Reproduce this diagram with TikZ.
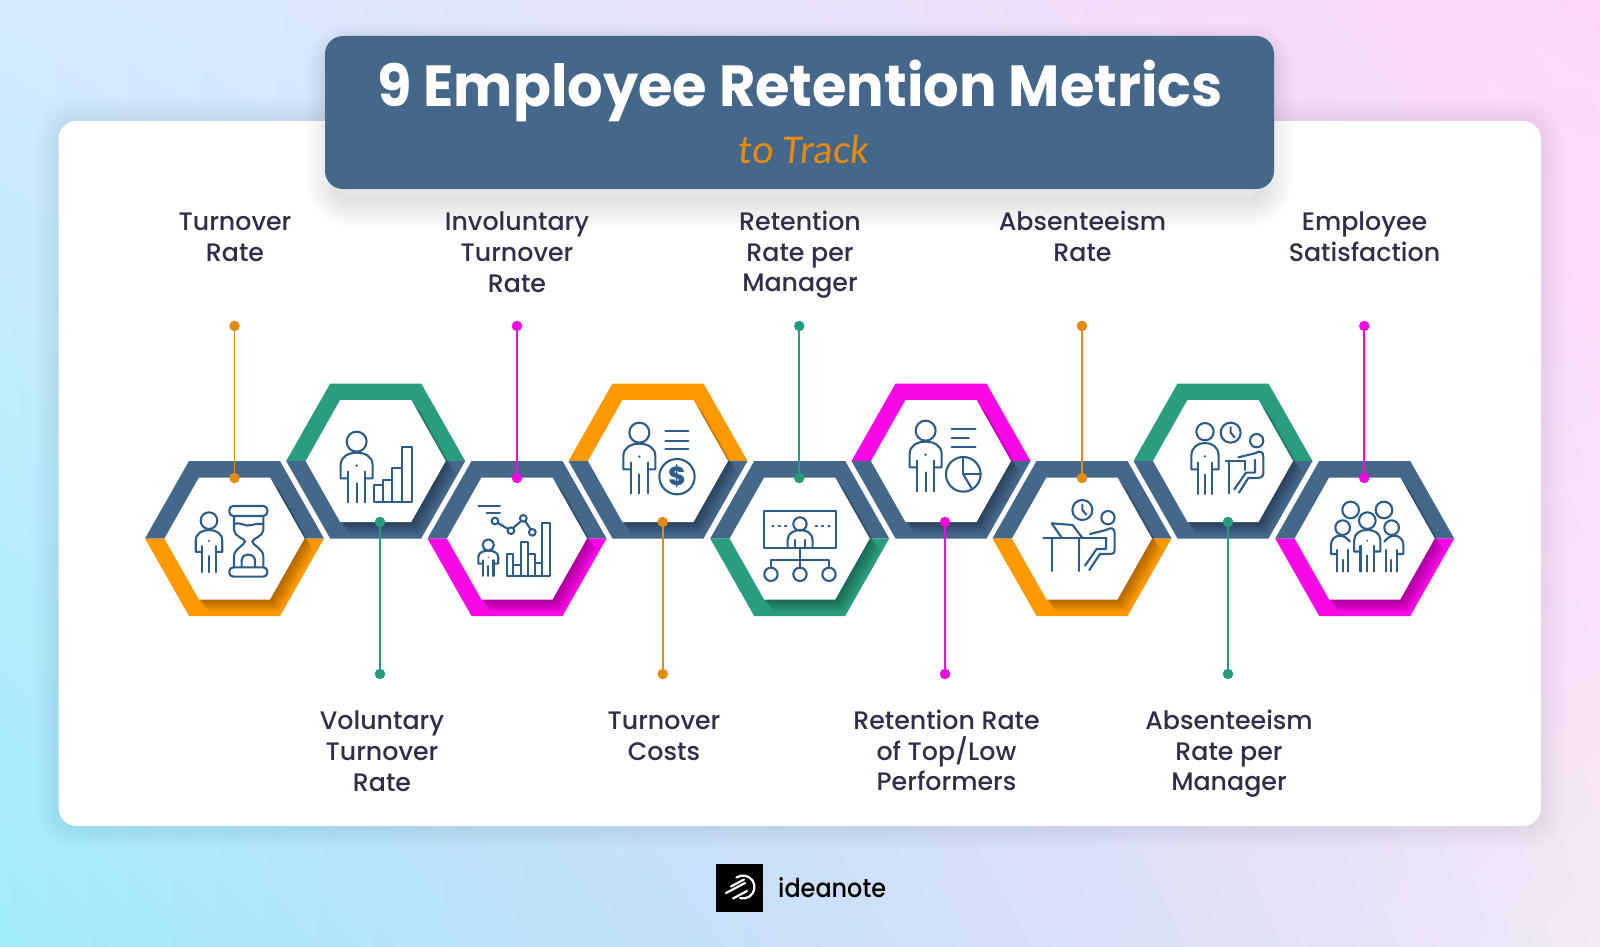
\documentclass[tikz,border=0pt]{standalone}
\usepackage{fontspec}
\setmainfont{Poppins}
\newfontfamily\labelfont{Poppins Medium}
\newfontfamily\brandfont[FakeStretch=0.92]{Poppins Medium}
\newfontfamily\titlefont[FakeStretch=0.963]{Poppins Bold}
\newfontfamily\hintfont[FakeSlant=0.1]{Carlito}
\usetikzlibrary{calc}
\definecolor{boxblue}{HTML}{44678A}
\definecolor{iconblue}{HTML}{2D5C88}
\definecolor{inktext}{HTML}{2E3047}
\definecolor{hexorange}{HTML}{FF9900}
\definecolor{hexgreen}{HTML}{2A9D7F}
\definecolor{hexpink}{HTML}{F708E4}
\definecolor{lineorange}{HTML}{E58A10}
\definecolor{linegreen}{HTML}{279A7B}
\definecolor{linepink}{HTML}{F20ADE}
\pgfdeclarefunctionalshading{pagewash}{\pgfpoint{0bp}{0bp}}{\pgfpoint{100bp}{100bp}}{}{
25 sub 50 div exch 25 sub 50 div exch
2 copy 2 copy mul -0.150 mul 3 1 roll 0.197 mul exch 0.326 mul add add 0.627 add 3 1 roll
2 copy 2 copy mul -0.060 mul 3 1 roll -0.007 mul exch -0.019 mul add add 0.929 add
3 copy pop 1 exch sub exch dup 1 exch sub mul mul 0.16 mul sub 3 1 roll
2 copy 2 copy mul 0.023 mul 3 1 roll -0.004 mul exch -0.031 mul add add 0.992 add 3 1 roll
pop pop}
\tikzset{
 metric/.style={font=\labelfont\fontsize{25.3}{30.6}\selectfont, text=inktext, align=center, inner sep=0pt},
 pin/.style={circle, fill=#1, inner sep=0pt, minimum size=10.5pt},
 icon/.style={draw=iconblue, line width=2.1pt, line cap=round, line join=round},
 frameA/.style={shift={(130pt,-370pt)}, x=.3333pt, y=-.3333pt},
 frameB/.style={shift={(560pt,-370pt)}, x=.3333pt, y=-.3333pt},
 frameC/.style={shift={(1000pt,-370pt)}, x=.3333pt, y=-.3333pt},
}
% ring with two colours and a shadow from the white middle
\newcommand{\hexcell}[4]{
\begin{scope}[shift={(#1,#2)}]
\fill[#3] (-89.5,0) -- (-45.5,-77.5) -- (45.5,-77.5) -- (89.5,0) -- cycle;
\fill[#4] (-89.5,0) -- (-45.5,77.5) -- (45.5,77.5) -- (89.5,0) -- cycle;
\begin{scope}
\clip (-89.5,0) -- (-45.5,-77.5) -- (45.5,-77.5) -- (89.5,0) -- (45.5,77.5) -- (-45.5,77.5) -- cycle;
\foreach \s in {1,...,12}
\fill[black, opacity=.028, shift={(.8*\s,\s)}] (-70,0) -- (-35.5,-61) -- (35.5,-61) -- (70,0) -- (35.5,61) -- (-35.5,61) -- cycle;
\end{scope}
\fill[white] (-70,0) -- (-35.5,-61) -- (35.5,-61) -- (70,0) -- (35.5,61) -- (-35.5,61) -- cycle;
\end{scope}}
% standing figure, origin at the middle of the head
\newcommand{\personicon}[4]{
\draw[icon] (#1,#2) circle (#4);
\begin{scope}[shift={(#1,#2)}, #3]
\draw[icon] (-25,110) -- (-48,110) -- (-48,70) .. controls (-48,45) and (-25,33) .. (0,33) .. controls (25,33) and (48,45) .. (48,70) -- (48,110) -- (25,110);
\draw[icon] (-25,90) -- (-25,182);
\draw[icon] (0,125) -- (0,182);
\draw[icon] (25,90) -- (25,182);
\fill[iconblue] (0,72) circle (4);
\end{scope}}
\newcommand{\clockicon}[2]{
\begin{scope}[shift={(#1,#2)}]
\draw[icon] (0,0) circle (30);
\draw[icon] (0,-16) -- (0,0) -- (12,14);
\end{scope}}
\begin{document}
\begin{tikzpicture}[x=1pt, y=-1pt]
\useasboundingbox (0,0) rectangle (1600,947);
\shade[shading=pagewash] (0,947) rectangle (1600,0);

% card
\foreach \w in {4,10,...,46}
\draw[black, opacity=.007, line width=\w pt, rounded corners=18pt] (58.5,121) rectangle (1541,826);
\fill[white, rounded corners=18pt] (58.5,121) rectangle (1541,826);

% title box
\foreach \w in {4,10,...,58}
\draw[black, opacity=.01, line width=\w pt, rounded corners=18pt] (335,52) rectangle (1264,199);
\fill[boxblue, rounded corners=18pt] (325,36) rectangle (1274,189);
\node[font=\titlefont\fontsize{58}{58}\selectfont, text=white, anchor=base, inner sep=0pt] (maintitle) at (800,107) {9 Employee Retention Metrics};
\node[font=\hintfont\fontsize{41}{41}\selectfont, text=lineorange, anchor=base, inner sep=0pt] (subtitle) at (803,163) {to Track};

% hexagons
\hexcell{234.5}{538.5}{boxblue}{hexorange}
\hexcell{375.7}{461}{hexgreen}{boxblue}
\hexcell{517}{538.5}{boxblue}{hexpink}
\hexcell{658}{461}{hexorange}{boxblue}
\hexcell{799.7}{538.5}{boxblue}{hexgreen}
\hexcell{941}{461}{hexpink}{boxblue}
\hexcell{1082}{538.5}{boxblue}{hexorange}
\hexcell{1223}{461}{hexgreen}{boxblue}
\hexcell{1364.7}{538.5}{boxblue}{hexpink}

% icons 1 to 3
\begin{scope}[frameA]
\personicon{237}{452}{xscale=.83,yscale=.85}{25}
\draw[icon, rounded corners=4pt] (298,408) rectangle (412,438);
\draw[icon, rounded corners=4pt] (298,592) rectangle (412,620);
\draw[icon] (312,438) -- (312,480) .. controls (312,500) and (345,505) .. (345,515) .. controls (345,525) and (312,535) .. (312,560) -- (312,592);
\draw[icon] (400,438) -- (400,480) .. controls (400,500) and (367,505) .. (367,515) .. controls (367,525) and (400,535) .. (400,560) -- (400,592);
\draw[icon] (312,462) .. controls (335,455) and (345,472) .. (365,465) .. controls (380,460) and (390,462) .. (400,462);
\draw[icon] (335,592) -- (335,572) .. controls (335,548) and (375,548) .. (375,572) -- (375,592);

\personicon{680}{215}{scale=1}{30}
\draw[icon] (733,397) rectangle (760,345);
\draw[icon] (760,397) rectangle (787,330);
\draw[icon] (787,397) rectangle (815,295);
\draw[icon] (815,397) rectangle (846,230);

\draw[icon] (1045,408) -- (1110,408);
\draw[icon] (1070,428) -- (1110,428);
\draw[icon] (1095,453) circle (10);
\draw[icon] (1143,482) circle (10);
\draw[icon] (1180,445) circle (10);
\draw[icon] (1207,487) circle (10);
\draw[icon] (1104,459) -- (1134,477);
\draw[icon] (1149,474) -- (1174,453);
\draw[icon] (1186,454) -- (1202,478);
\personicon{1075}{525}{xscale=.62,yscale=.51}{17}
\draw[icon] (1130,618) rectangle (1150,552);
\draw[icon] (1150,618) rectangle (1172,585);
\draw[icon] (1172,618) rectangle (1195,517);
\draw[icon] (1195,618) rectangle (1215,552);
\draw[icon] (1215,618) rectangle (1235,580);
\draw[icon] (1235,618) rectangle (1260,458);
\end{scope}

% icons 4 to 6
\begin{scope}[frameB]
\personicon{238}{188}{scale=1}{30}
\draw[icon] (316,184) -- (385,184);
\draw[icon] (316,212) -- (385,212);
\draw[icon] (316,238) -- (385,238);
\draw[icon] (351,320) circle (53);
\node[font=\labelfont\bfseries\fontsize{26}{26}\selectfont, text=iconblue, inner sep=0pt] (dollar) at (351,320) {\$};

\draw[icon] (613,423) rectangle (828,535);
\draw[icon] (720,462) circle (20);
\draw[icon] (683,530) -- (683,510) .. controls (683,470) and (758,470) .. (758,510) -- (758,530);
\draw[icon] (705,510) -- (705,530);
\draw[icon] (735,510) -- (735,530);
\draw[icon] (637,468) -- (641,468);
\draw[icon] (656,468) -- (660,468);
\draw[icon] (675,468) -- (679,468);
\draw[icon] (767,468) -- (771,468);
\draw[icon] (786,468) -- (790,468);
\draw[icon] (805,468) -- (809,468);
\draw[icon] (720,535) -- (720,593);
\draw[icon] (633,593) -- (633,570) -- (807,570) -- (807,593);
\draw[icon] (633,613) circle (20);
\draw[icon] (720,613) circle (20);
\draw[icon] (807,613) circle (20);

\personicon{1097}{182}{scale=1}{30}
\draw[icon] (1175,178) -- (1247,178);
\draw[icon] (1175,205) -- (1227,205);
\draw[icon] (1175,232) -- (1247,232);
\draw[icon] (1210,313) circle (52);
\draw[icon] (1210,262) -- (1210,313) -- (1262,313);
\draw[icon] (1210,313) -- (1235,355);
\end{scope}

% icons 7 to 9
\begin{scope}[frameC]
\clockicon{247}{420}
\draw[icon] (324,443) circle (20);
\draw[icon] (130,505) -- (320,505);
\draw[icon] (155,505) -- (155,603);
\draw[icon] (238,505) -- (238,603);
\draw[icon] (185,503) -- (155,460) -- (218,465) -- (248,505);
\draw[icon] (270,492) -- (318,480) .. controls (335,470) and (344,475) .. (344,490) -- (344,540) .. controls (344,552) and (335,552) .. (325,552) -- (300,552) -- (268,600);
\draw[icon] (255,587) -- (290,537) -- (318,537) -- (318,505);

\personicon{615}{185}{xscale=.85,yscale=1.03}{26}
\clockicon{692}{188}
\draw[icon] (770,212) circle (20);
\draw[icon] (677,272) -- (735,272);
\draw[icon] (688,272) -- (688,370);
\draw[icon] (735,272) -- (735,300);
\draw[icon] (715,262) -- (765,250) .. controls (780,240) and (790,245) .. (790,260) -- (790,310) .. controls (790,322) and (780,324) .. (770,324) -- (745,324) -- (717,368);
\draw[icon] (703,358) -- (738,308) -- (765,308) -- (765,270);

\draw[icon] (1052,420) circle (25);
\draw[icon] (1152,420) circle (25);
\personicon{1102}{452}{xscale=.82,yscale=.84}{25}
\draw[icon] (1028,473) circle (22);
\draw[icon] (1175,473) circle (22);
\draw[icon] (1050,515) .. controls (1040,503) and (1030,497) .. (1020,497) .. controls (1005,497) and (993,508) .. (993,525) -- (993,552) -- (1012,552);
\draw[icon] (1012,540) -- (1012,605);
\draw[icon] (1028,570) -- (1028,605);
\draw[icon] (1045,540) -- (1045,605);
\draw[icon] (1153,515) .. controls (1163,503) and (1173,497) .. (1183,497) .. controls (1198,497) and (1210,508) .. (1210,525) -- (1210,552) -- (1190,552);
\draw[icon] (1157,540) -- (1157,605);
\draw[icon] (1173,570) -- (1173,605);
\draw[icon] (1190,540) -- (1190,605);
\end{scope}

% connectors
\node[pin=lineorange] (ta) at (234.5,326) {};
\node[pin=lineorange] (ba) at (234.5,478) {};
\draw[lineorange, line width=1.7pt] (ta) -- (ba);
\node[pin=linegreen] (tb) at (380,522) {};
\node[pin=linegreen] (bb) at (380,674) {};
\draw[linegreen, line width=1.7pt] (tb) -- (bb);
\node[pin=linepink] (tc) at (517,326) {};
\node[pin=linepink] (bc) at (517,478) {};
\draw[linepink, line width=1.7pt] (tc) -- (bc);
\node[pin=lineorange] (td) at (662.7,522) {};
\node[pin=lineorange] (bd) at (662.7,674) {};
\draw[lineorange, line width=1.7pt] (td) -- (bd);
\node[pin=linegreen] (te) at (799.3,326) {};
\node[pin=linegreen] (be) at (799.3,478) {};
\draw[linegreen, line width=1.7pt] (te) -- (be);
\node[pin=linepink] (tf) at (945,522) {};
\node[pin=linepink] (bf) at (945,674) {};
\draw[linepink, line width=1.7pt] (tf) -- (bf);
\node[pin=lineorange] (tg) at (1082,326) {};
\node[pin=lineorange] (bg) at (1082,478) {};
\draw[lineorange, line width=1.7pt] (tg) -- (bg);
\node[pin=linegreen] (th) at (1228,522) {};
\node[pin=linegreen] (bh) at (1228,674) {};
\draw[linegreen, line width=1.7pt] (th) -- (bh);
\node[pin=linepink] (ti) at (1364.3,326) {};
\node[pin=linepink] (bi) at (1364.3,478) {};
\draw[linepink, line width=1.7pt] (ti) -- (bi);

% labels
\node[metric, anchor=north] (turnover) at (235,213) {Turnover\\Rate};
\node[metric, anchor=north] (voluntary) at (382,711) {Voluntary\\Turnover\\Rate};
\node[metric, anchor=north] (involuntary) at (517,212) {Involuntary\\Turnover\\Rate};
\node[metric, anchor=north] (costs) at (664,712) {Turnover\\Costs};
\node[metric, anchor=north] (manager) at (800,211) {Retention\\Rate per\\Manager};
\node[metric, anchor=north] (performers) at (946.5,710) {Retention Rate\\of Top/Low\\Performers};
\node[metric, anchor=north] (absence) at (1082.5,211) {Absenteeism\\Rate};
\node[metric, anchor=north] (absencemgr) at (1229,710) {Absenteeism\\Rate per\\Manager};
\node[metric, anchor=north] (satisfaction) at (1364.5,212) {Employee\\Satisfaction};

% logo
\node[fill=black, minimum width=47.5pt, minimum height=48pt, inner sep=0pt] (brandbox) at (739.5,888) {};
\begin{scope}[shift={(743,887)}, y=1pt]
\draw[white, line width=2.2pt, line cap=round] (125:11.5) arc (125:-105:11.5);
\end{scope}
\draw[white, line width=2.2pt, line cap=round] (726,893) -- (745,883);
\draw[white, line width=2.2pt, line cap=round] (731,886.5) -- (744,879.5);
\draw[white, line width=2.2pt, line cap=round] (733,898.5) -- (747,891);
\node[font=\brandfont\fontsize{26}{26}\selectfont, text=black, anchor=base west, inner sep=0pt] (brandname) at (778,897) {ideanote};
\end{tikzpicture}
\end{document}
